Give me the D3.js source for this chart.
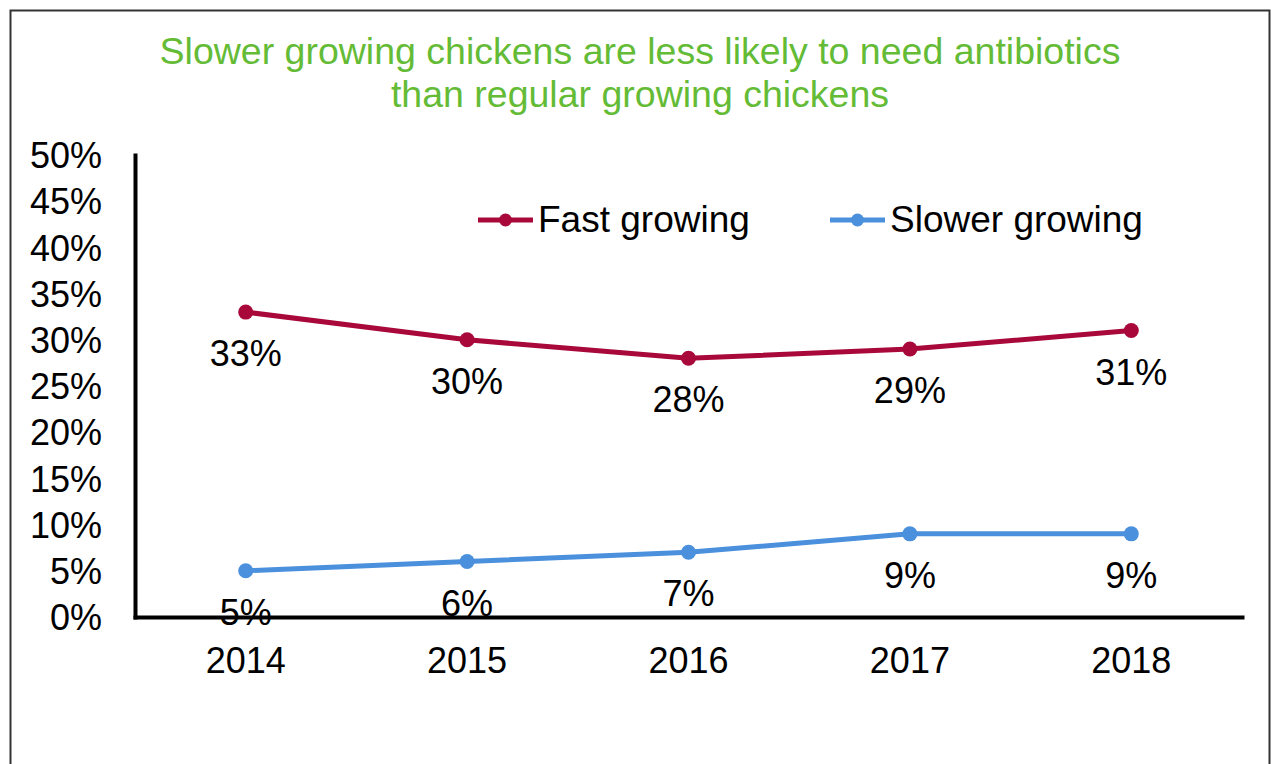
<!DOCTYPE html>
<html>
<head>
<meta charset="utf-8">
<script src="https://cdn.jsdelivr.net/npm/d3@7"></script>
<style>
	body { margin: 0; background: #fff; }
	svg { display: block; font-family: "Liberation Sans", Arial, sans-serif; }
</style>
</head>
<body>
<svg id="chart"></svg>
<script>
// chart data
const years = ["2014", "2015", "2016", "2017", "2018"];
const fastGrowing = [0.33, 0.30, 0.28, 0.29, 0.31];
const slowerGrowing = [0.05, 0.06, 0.07, 0.09, 0.09];
const yTicks = [0, 0.05, 0.10, 0.15, 0.20, 0.25, 0.30, 0.35, 0.40, 0.45, 0.50];
const titleLines = ["Slower growing chickens are less likely to need antibiotics", "than regular growing chickens"];
const seriesNames = ["Fast growing", "Slower growing"];

const width = 1271, height = 764;
const colors = ["#a8083a", "#4a90dc"];

const svg = d3.select("#chart")
	.attr("width", width)
	.attr("height", height)
	.attr("viewBox", `0 0 ${width} ${height}`);

// outer frame (bottom edge runs off the picture)
svg.append("rect")
	.attr("x", 10.5)
	.attr("y", 10.5)
	.attr("width", 1259)
	.attr("height", 800)
	.attr("fill", "none")
	.attr("stroke", "#333")
	.attr("stroke-width", 2);

svg.append("g")
	.selectAll("text")
	.data(titleLines)
	.join("text")
	.attr("x", 640)
	.attr("y", (d, i) => 64 + i * 43)
	.attr("text-anchor", "middle")
	.attr("fill", "#64bb36")
	.attr("font-size", 37.5)
	.text(d => d);

const x = d3.scaleBand().domain(years).range([135, 1242]);
const y = d3.scaleLinear().domain([0, 0.5]).range([617, 155]);

const series = [fastGrowing, slowerGrowing];

const line = d3.line()
	.x((d, i) => x(years[i]) + x.bandwidth() / 2)
	.y(d => y(d));

const plot = svg.append("g");

series.forEach((values, s) => {
	plot.append("path")
		.datum(values)
		.attr("d", line)
		.attr("fill", "none")
		.attr("stroke", colors[s])
		.attr("stroke-width", 5);

	plot.append("g")
		.selectAll("circle")
		.data(values)
		.join("circle")
		.attr("cx", (d, i) => x(years[i]) + x.bandwidth() / 2)
		.attr("cy", d => y(d))
		.attr("r", 7.5)
		.attr("fill", colors[s]);

	plot.append("g")
		.selectAll("text")
		.data(values)
		.join("text")
		.attr("x", (d, i) => x(years[i]) + x.bandwidth() / 2)
		.attr("y", d => y(d) + 54)
		.attr("text-anchor", "middle")
		.attr("font-size", 36)
		.attr("fill", "#000")
		.text(d => Math.round(d * 100) + "%");
});

// axes drawn on top of the labels
const yAxis = svg.append("g")
	.attr("transform", "translate(135,0)")
	.call(d3.axisLeft(y).tickValues(yTicks).tickFormat(d3.format(".0%")).tickSize(0).tickPadding(33));

const xAxis = svg.append("g")
	.attr("transform", "translate(0,617)")
	.call(d3.axisBottom(x).tickSize(0).tickPadding(30));

[yAxis, xAxis].forEach(g => {
	g.attr("font-family", null).attr("font-size", 36);
	g.select(".domain")
		.attr("stroke", "#000")
		.attr("stroke-width", 4)
		.attr("stroke-linecap", "square");
	g.selectAll(".tick text").attr("fill", "#000");
});
yAxis.selectAll(".tick text").attr("dy", "0.35em");

// legend
const legendX = [478, 830];
const legend = svg.append("g");
seriesNames.forEach((name, s) => {
	const lx = legendX[s];
	legend.append("line")
		.attr("x1", lx).attr("x2", lx + 55)
		.attr("y1", 220).attr("y2", 220)
		.attr("stroke", colors[s])
		.attr("stroke-width", 5);
	legend.append("circle")
		.attr("cx", lx + 27.5)
		.attr("cy", 220)
		.attr("r", 6.5)
		.attr("fill", colors[s]);
	legend.append("text")
		.attr("x", lx + 60)
		.attr("y", 232)
		.attr("font-size", 37)
		.attr("fill", "#000")
		.text(name);
});
</script>
</body>
</html>
